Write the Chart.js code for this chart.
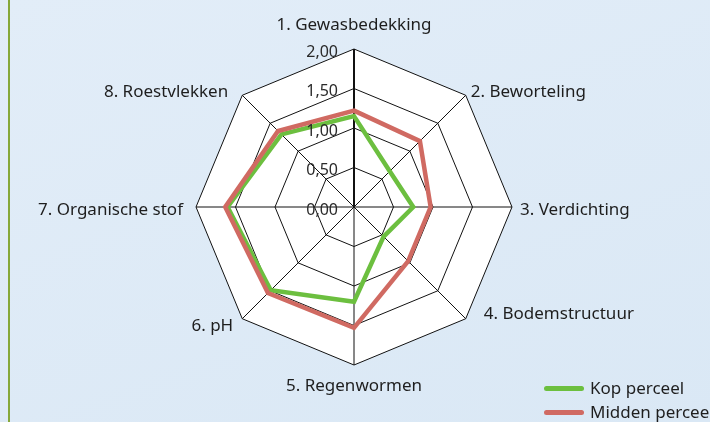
<!DOCTYPE html>
<html>
<head>
<meta charset="utf-8">
<script src="https://cdn.jsdelivr.net/npm/chart.js@4"></script>
<style>
  html, body { margin: 0; padding: 0; }
  body {
    width: 710px; height: 422px; overflow: hidden; position: relative;
    background: linear-gradient(160deg, #e2edf8 0%, #dae8f5 100%);
    font-family: 'Noto Sans', sans-serif; color: #1e1e1e;
  }
  #edge { position: absolute; left: 8px; top: 0; width: 2px; height: 422px; background: #86a83a; }
  #chart { position: absolute; left: 0; top: 0; }
  .legend { position: absolute; left: 544px; font-size: 17px; line-height: 22px; white-space: nowrap; }
  .legend span { display: inline-block; width: 40px; height: 5px; border-radius: 3px; vertical-align: middle; margin-right: 6px; position: relative; top: -1px; }
</style>
</head>
<body>
<div id="edge"></div>
<canvas id="chart" width="710" height="422"></canvas>
<div class="legend" style="top:377px"><span style="background:#6cbf3f"></span>Kop perceel</div>
<div class="legend" style="top:401px"><span style="background:#d06a62"></span>Midden perceel</div>
<script>
const $ = (id) => document.getElementById(id);

const labels = ['1. Gewasbedekking', '2. Beworteling', '3. Verdichting', '4. Bodemstructuur',
  '5. Regenwormen', '6. pH', '7. Organische stof', '8. Roestvlekken'];
const kopPerceel = [1.15, 0.64, 0.75, 0.53, 1.20, 1.49, 1.60, 1.30];
const middenPerceel = [1.22, 1.18, 0.97, 0.97, 1.53, 1.54, 1.63, 1.36];
const tickValues = [0, 0.5, 1, 1.5, 2];

// small per-label shifts so the labels sit where the original placed them
const labelNudge = [[0, 0], [-2, 4], [-2, 3], [11, -12], [0, 1], [-2, 0], [-3, 3], [-7, 4]];

const fmt = (v) => v.toFixed(2).replace('.', ',');

// white face, tick labels and point labels drawn from the r scale
const radarDecor = {
  id: 'radarDecor',
  beforeDraw(chart) {
    const r = chart.scales.r;
    const ctx = chart.ctx;
    ctx.save();
    ctx.beginPath();
    labels.forEach((_, i) => {
      const p = r.getPointPosition(i, r.drawingArea);
      i ? ctx.lineTo(p.x, p.y) : ctx.moveTo(p.x, p.y);
    });
    ctx.closePath();
    ctx.fillStyle = '#ffffff';
    ctx.fill();
    ctx.restore();
  },
  afterDraw(chart) {
    const r = chart.scales.r;
    const ctx = chart.ctx;
    ctx.save();
    ctx.fillStyle = '#2a2a2a';
    ctx.font = '16px "Noto Sans"';
    ctx.textAlign = 'right';
    ctx.textBaseline = 'middle';
    tickValues.forEach((v) => {
      const p = r.getPointPosition(0, r.getDistanceFromCenterForValue(v));
      ctx.fillText(fmt(v), r.xCenter - 16, p.y + 3);
    });

    ctx.fillStyle = '#1e1e1e';
    ctx.font = '17px "Noto Sans"';
    labels.forEach((label, i) => {
      const p = r.getPointPosition(i, r.drawingArea + 10);
      const dx = p.x - r.xCenter;
      const dy = p.y - r.yCenter;
      ctx.textAlign = Math.abs(dx) < 1 ? 'center' : dx > 0 ? 'left' : 'right';
      let y = p.y;
      if (Math.abs(dx) < 1) y += dy < 0 ? -14 : 10;
      ctx.textBaseline = 'middle';
      ctx.fillText(label, p.x + labelNudge[i][0], y + labelNudge[i][1]);
    });
    ctx.restore();
  },
};

new Chart($('chart'), {
  type: 'radar',
  data: {
    labels,
    datasets: [
      { label: 'Kop perceel', data: kopPerceel, borderColor: '#6cbf3f', order: 2 },
      { label: 'Midden perceel', data: middenPerceel, borderColor: '#d06a62', order: 1 },
    ],
  },
  options: {
    responsive: false,
    animation: false,
    layout: { padding: { left: 196, right: 198, top: 49, bottom: 57 } },
    elements: {
      line: { borderWidth: 4.5, fill: false, tension: 0, borderJoinStyle: 'miter' },
      point: { radius: 0, hoverRadius: 0 },
    },
    plugins: { legend: { display: false }, tooltip: { enabled: false } },
    scales: {
      r: {
        min: 0,
        max: 2,
        ticks: { stepSize: 0.5, display: false },
        grid: { color: '#111111', lineWidth: 1 },
        angleLines: { color: '#111111', lineWidth: (c) => (c.index === 0 ? 2 : 1) },
        pointLabels: { display: false },
      },
    },
  },
  plugins: [radarDecor],
});
</script>
</body>
</html>
